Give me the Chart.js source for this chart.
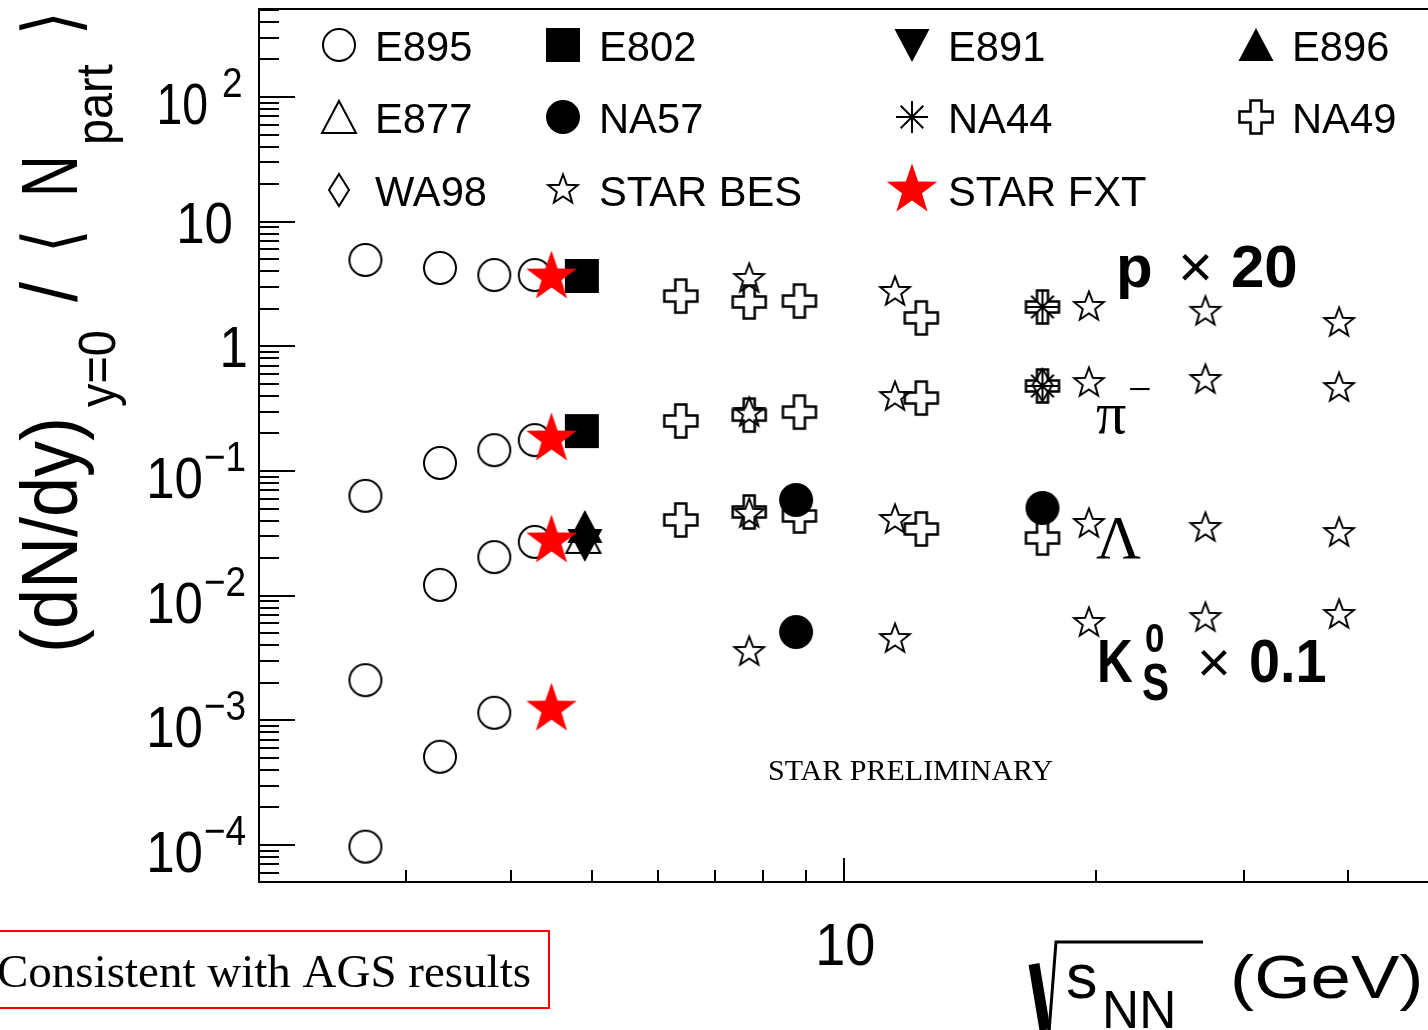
<!DOCTYPE html>
<html>
<head>
<meta charset="utf-8">
<title>(dN/dy)/Npart vs sqrt(sNN)</title>
<script src="https://cdn.jsdelivr.net/npm/chart.js@4.4.1/dist/chart.umd.min.js"></script>
<style>
  html, body { margin: 0; padding: 0; background: #fff; overflow: hidden; }
  #grafico { display: block; }
</style>
</head>
<body>
<canvas id="grafico" width="1428" height="1030"></canvas>
<script>
/* ==========================================================================
   Rendimentos por participante (p x20, pi-, Lambda, K0s x0.1) vs sqrt(sNN)
   valores
   ========================================================================== */

const e895Energia = [2.68, 3.29, 3.82, 4.27];
const e895Proton = [4.93, 4.25, 3.73, 3.73];
const e895Pion = [0.0632, 0.116, 0.147, 0.177];
const e895Lambda = [0.0021, 0.0122, 0.0204, 0.027];
const e895K0s = [9.7e-5, 5.1e-4, 1.15e-3, null];

const e802Energia = [4.86];
const e802Proton = [3.67];
const e802Pion = [0.209];

const e891Energia = [4.9];
const e891Lambda = [0.0255];

const e896Energia = [4.9];
const e896Lambda = [0.0356];

const e877Energia = [4.88];
const e877Lambda = [0.0296];

const na57Energia = [8.76, 17.25];
const na57Lambda = [0.0586, 0.0505];
const na57K0s = [0.00511, null];

const na44Energia = [17.25];
const na44Proton = [2.07];
const na44Pion = [0.481];

const na49Energia = [6.38, 7.7, 8.84, 12.36, 17.25];
const na49Proton = [2.53, 2.27, 2.31, 1.69, 2.07];
const na49Pion = [0.252, 0.281, 0.297, 0.385, 0.481];
const na49Lambda = [0.0405, 0.0469, 0.0436, 0.0343, 0.029];

const wa98Energia = [17.25];
const wa98Pion = [0.49];

const besEnergia = [7.7, 11.5, 19.6, 27, 39];
const besProton = [3.47, 2.73, 2.07, 1.89, 1.54];
const besPion = [0.292, 0.392, 0.508, 0.537, 0.463];
const besLambda = [0.0452, 0.0405, 0.0376, 0.0349, 0.0318];
const besK0s = [0.00353, 0.00449, 0.00604, 0.00662, 0.0070];

const fxtEnergia = [4.47];
const fxtProton = [3.6];
const fxtPion = [0.1806];
const fxtLambda = [0.0275];
const fxtK0s = [0.00123];

const eixoXMin = 2;
const eixoXMax = 49.8;
const eixoYMin = 5.05e-5;
const eixoYMax = 508;
const expoentesY = [-4, -3, -2, -1, 0, 1, 2];
const rotulosX = [10];

const FONTE = "'Liberation Sans', Arial, sans-serif";
const SERIFA = "'Liberation Serif', 'Times New Roman', serif";

function pontos(energias, ...series) {
    const lista = [];
    series.forEach(s => {
        s.forEach((v, i) => {
            if (v !== null && v !== undefined) lista.push({ x: energias[i], y: v });
        });
    });
    return lista;
}

function poligono(g, pts) {
    g.beginPath();
    pts.forEach((p, i) => (i ? g.lineTo(p[0], p[1]) : g.moveTo(p[0], p[1])));
    g.closePath();
}

function pontosEstrela(R, r) {
    const pts = [];
    for (let i = 0; i < 10; i++) {
        const raio = i % 2 ? r : R;
        const ang = -Math.PI / 2 + i * Math.PI / 5;
        pts.push([raio * Math.cos(ang), raio * Math.sin(ang)]);
    }
    return pts;
}

function criarMarcador(tipo) {
    const tam = 64;
    const c = document.createElement("canvas");
    c.width = tam;
    c.height = tam;
    const g = c.getContext("2d");
    g.translate(tam / 2, tam / 2);
    g.lineWidth = 2;
    g.strokeStyle = "#000";
    g.fillStyle = "#000";

    switch (tipo) {
        case "circuloAberto":
            g.beginPath(); g.arc(0, 0, 16, 0, Math.PI * 2); g.stroke();
            break;
        case "circuloCheio":
            g.beginPath(); g.arc(0, 0, 17, 0, Math.PI * 2); g.fill();
            break;
        case "quadrado":
            g.fillRect(-17, -17, 34, 34);
            break;
        case "trianguloCima":
            poligono(g, [[0, -17], [17.5, 16], [-17.5, 16]]); g.fill();
            break;
        case "trianguloBaixo":
            poligono(g, [[0, 17], [17.5, -16], [-17.5, -16]]); g.fill();
            break;
        case "trianguloAberto":
            poligono(g, [[0, -16], [17, 16], [-17, 16]]); g.stroke();
            break;
        case "asterisco":
            for (let i = 0; i < 4; i++) {
                const a = i * Math.PI / 4;
                g.beginPath();
                g.moveTo(-16 * Math.cos(a), -16 * Math.sin(a));
                g.lineTo(16 * Math.cos(a), 16 * Math.sin(a));
                g.stroke();
            }
            break;
        case "cruzAberta": {
            const R = 16.5, a = 5.5;
            poligono(g, [[-a, -R], [a, -R], [a, -a], [R, -a], [R, a], [a, a],
                [a, R], [-a, R], [-a, a], [-R, a], [-R, -a], [-a, -a]]);
            g.lineWidth = 2.5;
            g.stroke();
            break;
        }
        case "losango":
            poligono(g, [[0, -16], [10, 0], [0, 16], [-10, 0]]); g.stroke();
            break;
        case "estrelaAberta":
            poligono(g, pontosEstrela(15.5, 6.5)); g.stroke();
            break;
        case "estrelaVermelha":
            poligono(g, pontosEstrela(26.5, 10.5));
            g.fillStyle = "#ff0000";
            g.fill();
            break;
    }
    return c;
}

const marcadores = {
    E895: criarMarcador("circuloAberto"),
    E802: criarMarcador("quadrado"),
    E891: criarMarcador("trianguloBaixo"),
    E896: criarMarcador("trianguloCima"),
    E877: criarMarcador("trianguloAberto"),
    NA57: criarMarcador("circuloCheio"),
    NA44: criarMarcador("asterisco"),
    NA49: criarMarcador("cruzAberta"),
    WA98: criarMarcador("losango"),
    "STAR BES": criarMarcador("estrelaAberta"),
    "STAR FXT": criarMarcador("estrelaVermelha")
};

// ordem da legenda (linhas de 4)
const legendaItens = ["E895", "E802", "E891", "E896", "E877", "NA57", "NA44", "NA49", "WA98", "STAR BES", "STAR FXT"];

function conjunto(rotulo, dados, ordem) {
    return {
        label: rotulo,
        data: dados,
        pointStyle: marcadores[rotulo],
        pointRadius: 16,
        pointHoverRadius: 16,
        order: ordem
    };
}

const conjuntos = [
    conjunto("E895", pontos(e895Energia, e895Proton, e895Pion, e895Lambda, e895K0s), 10),
    conjunto("E877", pontos(e877Energia, e877Lambda), 9),
    conjunto("E891", pontos(e891Energia, e891Lambda), 8),
    conjunto("E896", pontos(e896Energia, e896Lambda), 7),
    conjunto("E802", pontos(e802Energia, e802Proton, e802Pion), 6),
    conjunto("NA49", pontos(na49Energia, na49Proton, na49Pion, na49Lambda), 5),
    conjunto("WA98", pontos(wa98Energia, wa98Pion), 4),
    conjunto("NA44", pontos(na44Energia, na44Proton, na44Pion), 3),
    conjunto("NA57", pontos(na57Energia, na57Lambda, na57K0s), 2),
    conjunto("STAR BES", pontos(besEnergia, besProton, besPion, besLambda, besK0s), 1),
    conjunto("STAR FXT", pontos(fxtEnergia, fxtProton, fxtPion, fxtLambda, fxtK0s), 0)
];

function escreve(ctx, texto, x, y, fonte, sx = 1, alinhamento = "left") {
    ctx.save();
    ctx.font = fonte;
    ctx.textAlign = alinhamento;
    ctx.textBaseline = "alphabetic";
    ctx.translate(x, y);
    ctx.scale(sx, 1);
    ctx.fillText(texto, 0, 0);
    const largura = ctx.measureText(texto).width * sx;
    ctx.restore();
    return largura;
}

const pluginMoldura = {
    id: "moldura",
    beforeDatasetsDraw(chart) {
        const { ctx, chartArea: a, scales: { x, y } } = chart;
        ctx.save();
        ctx.strokeStyle = "#000";
        ctx.lineWidth = 2;
        ctx.beginPath();
        ctx.moveTo(chart.width + 2, a.top);
        ctx.lineTo(a.left, a.top);
        ctx.lineTo(a.left, a.bottom);
        ctx.lineTo(chart.width + 2, a.bottom);
        ctx.stroke();

        // marcas do eixo y (para dentro)
        ctx.beginPath();
        for (let e = -5; e <= 2; e++) {
            for (let m = 1; m <= 9; m++) {
                const v = m * Math.pow(10, e);
                if (v < y.min || v > y.max) continue;
                const py = Math.round(y.getPixelForValue(v));
                ctx.moveTo(a.left, py);
                ctx.lineTo(a.left + (m === 1 ? 36 : 20), py);
            }
        }
        // marcas do eixo x
        for (let e = 0; e <= 1; e++) {
            for (let m = 1; m <= 9; m++) {
                const v = m * Math.pow(10, e);
                if (v <= x.min || v >= x.max) continue;
                const px = Math.round(x.getPixelForValue(v));
                ctx.moveTo(px, a.bottom);
                ctx.lineTo(px, a.bottom - (m === 1 ? 24 : 12));
            }
        }
        ctx.stroke();
        ctx.restore();
    },
    afterDraw(chart) {
        const { ctx, chartArea: a, scales: { x, y } } = chart;
        ctx.save();
        ctx.fillStyle = "#000";

        // rótulos do eixo y
        expoentesY.forEach(ex => {
            const py = y.getPixelForValue(Math.pow(10, ex));
            if (ex === 0) {
                escreve(ctx, "1", 248, py + 21, `58px ${FONTE}`, 0.88, "right");
            } else if (ex === 1) {
                escreve(ctx, "10", 233, py + 21, `58px ${FONTE}`, 0.88, "right");
            } else if (ex > 0) {
                escreve(ctx, "10", 208, py + 27, `58px ${FONTE}`, 0.8, "right");
                escreve(ctx, String(ex), 222, py, `42px ${FONTE}`, 0.88, "left");
            } else {
                escreve(ctx, "10", 203, py + 27, `58px ${FONTE}`, 0.88, "right");
                escreve(ctx, "\u2212" + Math.abs(ex), 204, py, `42px ${FONTE}`, 0.88, "left");
            }
        });

        // rótulo do eixo x
        rotulosX.forEach(v => {
            escreve(ctx, String(v), x.getPixelForValue(v) + 1, 965, `60px ${FONTE}`, 0.9, "center");
        });

        // título do eixo y (girado)
        ctx.save();
        ctx.translate(77, 653);
        ctx.rotate(-Math.PI / 2);
        escreve(ctx, "(dN/dy)", 0, 0, `80px ${FONTE}`, 0.9);
        escreve(ctx, "y=0", 246, 38, `52px ${FONTE}`, 0.9);
        escreve(ctx, "/", 351, 0, `80px ${FONTE}`, 0.9);
        escreve(ctx, "\u27E8", 400, 0, `76px 'DejaVu Sans', sans-serif`, 0.8);
        escreve(ctx, "N", 456, 0, `80px ${FONTE}`, 0.72);
        escreve(ctx, "part", 508, 35, `52px ${FONTE}`, 0.9);
        escreve(ctx, "\u27E9", 618, 0, `76px 'DejaVu Sans', sans-serif`, 0.8);
        ctx.restore();

        // título do eixo x: raiz de s_NN (GeV)
        ctx.save();
        ctx.strokeStyle = "#000";
        ctx.lineCap = "butt";
        ctx.lineWidth = 11;
        ctx.beginPath();
        ctx.moveTo(1034, 964);
        ctx.lineTo(1045, 1030);
        ctx.stroke();
        ctx.lineWidth = 3;
        ctx.beginPath();
        ctx.moveTo(1049, 1032);
        ctx.lineTo(1056, 942);
        ctx.lineTo(1203, 942);
        ctx.stroke();
        ctx.restore();
        escreve(ctx, "s", 1066, 998, `63px ${FONTE}`);
        escreve(ctx, "NN", 1102, 1028, `53px ${FONTE}`, 0.97);
        escreve(ctx, "(GeV)", 1230, 998, `62px ${FONTE}`, 1.17);

        // legenda em 4 colunas
        const colX = [339, 563, 912, 1256];
        const linY = [45, 117, 190];
        legendaItens.forEach((rotulo, i) => {
            const cx = colX[i % 4];
            const cy = linY[Math.floor(i / 4)];
            const m = marcadores[rotulo];
            ctx.drawImage(m, cx - m.width / 2, cy - m.height / 2);
            escreve(ctx, rotulo, cx + 36, cy + 16, `43px ${FONTE}`, 0.97);
        });

        // anotações das espécies
        escreve(ctx, "p", 1116, 287, `bold 60px ${FONTE}`);
        escreve(ctx, "\u00D7", 1178, 287, `60px ${FONTE}`);
        escreve(ctx, "20", 1231, 287, `bold 60px ${FONTE}`);

        escreve(ctx, "\u03C0", 1096, 433, `60px ${SERIFA}`);
        escreve(ctx, "\u2212", 1128, 403, `42px ${SERIFA}`);

        escreve(ctx, "\u039B", 1096, 558, `62px ${SERIFA}`);

        escreve(ctx, "K", 1097, 682, `bold 62px ${FONTE}`, 0.8);
        escreve(ctx, "0", 1145, 652, `bold 41px ${FONTE}`, 0.85);
        escreve(ctx, "S", 1142, 700, `bold 52px ${FONTE}`, 0.78);
        escreve(ctx, "\u00D7", 1197, 682, `58px ${FONTE}`);
        escreve(ctx, "0.1", 1249, 682, `bold 62px ${FONTE}`, 0.9);

        escreve(ctx, "STAR PRELIMINARY", 768, 780, `30px ${SERIFA}`);

        // caixa vermelha
        ctx.strokeStyle = "#ff0000";
        ctx.lineWidth = 2;
        ctx.strokeRect(-10, 931, 559, 77);
        escreve(ctx, "Consistent with AGS results", -3, 987, `47px ${SERIFA}`);

        ctx.restore();
    }
};

new Chart(document.getElementById("grafico"), {
    type: "scatter",
    data: { datasets: conjuntos },
    options: {
        responsive: false,
        animation: false,
        devicePixelRatio: 1,
        layout: { autoPadding: false, padding: { left: 259, top: 9, right: 0, bottom: 148 } },
        scales: {
            x: { type: "logarithmic", min: eixoXMin, max: eixoXMax, display: false },
            y: { type: "logarithmic", min: eixoYMin, max: eixoYMax, display: false }
        },
        plugins: {
            legend: { display: false },
            tooltip: { enabled: false }
        }
    },
    plugins: [pluginMoldura]
});
</script>
</body>
</html>
